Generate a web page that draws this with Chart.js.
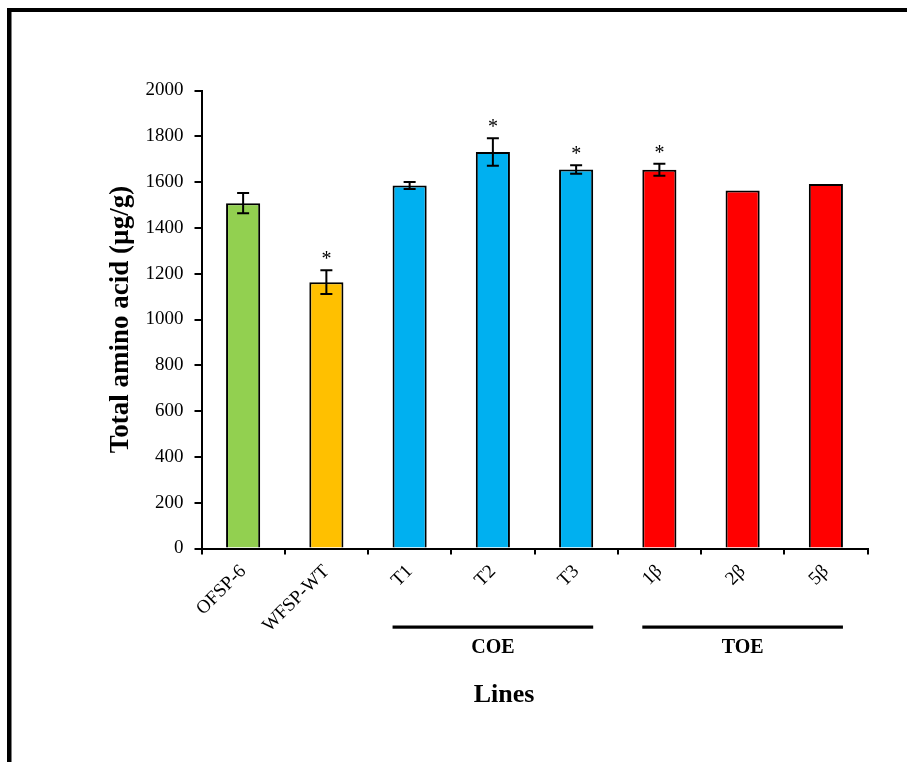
<!DOCTYPE html>
<html>
<head>
<meta charset="utf-8">
<script src="https://cdn.jsdelivr.net/npm/chart.js@4.4.1/dist/chart.umd.min.js"></script>
<style>
  html, body { margin: 0; padding: 0; background: #ffffff; }
  #wrap { width: 907px; height: 762px; }
</style>
</head>
<body>
<div id="wrap"><canvas id="c" width="907" height="762"></canvas></div>
<script>
// ---- data ----
const categories = ['OFSP-6', 'WFSP-WT', 'T1', 'T2', 'T3', '1β', '2β', '5β'];
const values = [1508, 1163, 1585, 1731, 1655, 1654, 1563, 1592];
const errors = [44, 52, 15, 60, 19, 26, 0, 0];
const significant = [false, true, false, true, true, true, false, false];
const barColors = ['#92D050', '#FFC000', '#00B0F0', '#00B0F0', '#00B0F0', '#FF0000', '#FF0000', '#FF0000'];
const yTicks = [0, 200, 400, 600, 800, 1000, 1200, 1400, 1600, 1800, 2000];
const groupLabels = ['COE', 'TOE'];
const groupStart = [2, 5];
const groupEnd = [4, 7];
const yTitle = 'Total amino acid (µg/g)';
const xTitle = 'Lines';

const SERIF = '"Liberation Serif", "Times New Roman", Times, serif';

const extras = {
  id: 'extras',
  beforeDraw(chart) {
    const ctx = chart.ctx;
    ctx.save();
    ctx.fillStyle = '#ffffff';
    ctx.fillRect(0, 0, chart.width, chart.height);
    ctx.fillStyle = '#000000';
    ctx.fillRect(7, 8, chart.width - 7, 4);
    ctx.fillRect(7, 8, 4.5, chart.height - 8);
    ctx.restore();
  },
  afterDatasetsDraw(chart) {
    const ctx = chart.ctx;
    const ys = chart.scales.y;
    const meta = chart.getDatasetMeta(0);
    ctx.save();
    ctx.strokeStyle = '#000000';
    ctx.fillStyle = '#000000';
    ctx.lineWidth = 2;
    values.forEach((v, i) => {
      const x = meta.data[i].x;
      const e = errors[i];
      let top = ys.getPixelForValue(v);
      if (e > 0) {
        const yt = ys.getPixelForValue(v + e);
        const yb = ys.getPixelForValue(v - e);
        ctx.beginPath();
        ctx.moveTo(x, yt); ctx.lineTo(x, yb);
        ctx.moveTo(x - 6, yt); ctx.lineTo(x + 6, yt);
        ctx.moveTo(x - 6, yb); ctx.lineTo(x + 6, yb);
        ctx.stroke();
        top = yt;
      }
      if (significant[i]) {
        ctx.font = '20px ' + SERIF;
        ctx.textAlign = 'center';
        ctx.textBaseline = 'alphabetic';
        ctx.fillText('*', x, top - 5);
      }
    });
    // group bars and labels
    groupLabels.forEach((g, k) => {
      const a = meta.data[groupStart[k]], b = meta.data[groupEnd[k]];
      const x0 = a.x - a.width / 2, x1 = b.x + b.width / 2;
      ctx.fillRect(x0, 625.5, x1 - x0, 3.2);
      ctx.font = 'bold 20px ' + SERIF;
      ctx.textAlign = 'center';
      ctx.textBaseline = 'alphabetic';
      ctx.fillText(g, (a.x + b.x) / 2, 653);
    });
    // x axis title
    ctx.font = 'bold 26px ' + SERIF;
    ctx.textAlign = 'center';
    ctx.textBaseline = 'alphabetic';
    ctx.fillText(xTitle, 504, 701.5);
    ctx.restore();
  }
};

new Chart(document.getElementById('c'), {
  type: 'bar',
  data: {
    labels: categories,
    datasets: [{
      data: values,
      backgroundColor: barColors,
      borderColor: '#000000',
      borderWidth: 2,
      borderSkipped: 'bottom',
      barPercentage: 0.41,
      categoryPercentage: 1.0
    }]
  },
  options: {
    responsive: false,
    animation: false,
    devicePixelRatio: 1,
    layout: { padding: { left: 95, right: 39.5, top: 90.5, bottom: 0 } },
    plugins: { legend: { display: false }, tooltip: { enabled: false } },
    scales: {
      x: {
        offset: true,
        grid: { display: true, drawOnChartArea: false, drawTicks: true, tickLength: 6, offset: true, color: '#000000', lineWidth: 2 },
        border: { display: true, color: '#000000', width: 2 },
        ticks: {
          color: '#000000',
          font: { family: SERIF, size: 19 },
          maxRotation: 45, minRotation: 45,
          padding: 6,
          autoSkip: false
        },
        afterFit(s) { s.height = 762 - 548.5; }
      },
      y: {
        min: 0, max: 2000,
        afterBuildTicks(s) { s.ticks = yTicks.map(v => ({ value: v })); },
        grid: { display: true, drawOnChartArea: false, drawTicks: true, tickLength: 7, color: '#000000', lineWidth: 2 },
        border: { display: true, color: '#000000', width: 2 },
        ticks: {
          color: '#000000',
          font: { family: SERIF, size: 19 },
          padding: 11,
          callback: (v) => String(v)
        },
        title: {
          display: true,
          text: yTitle,
          color: '#000000',
          font: { family: SERIF, size: 27, weight: 'bold' },
          padding: { top: 10, bottom: 0 }
        },
        afterFit(s) { s.width = 201.5 - 95; }
      }
    }
  },
  plugins: [extras]
});
</script>
</body>
</html>
